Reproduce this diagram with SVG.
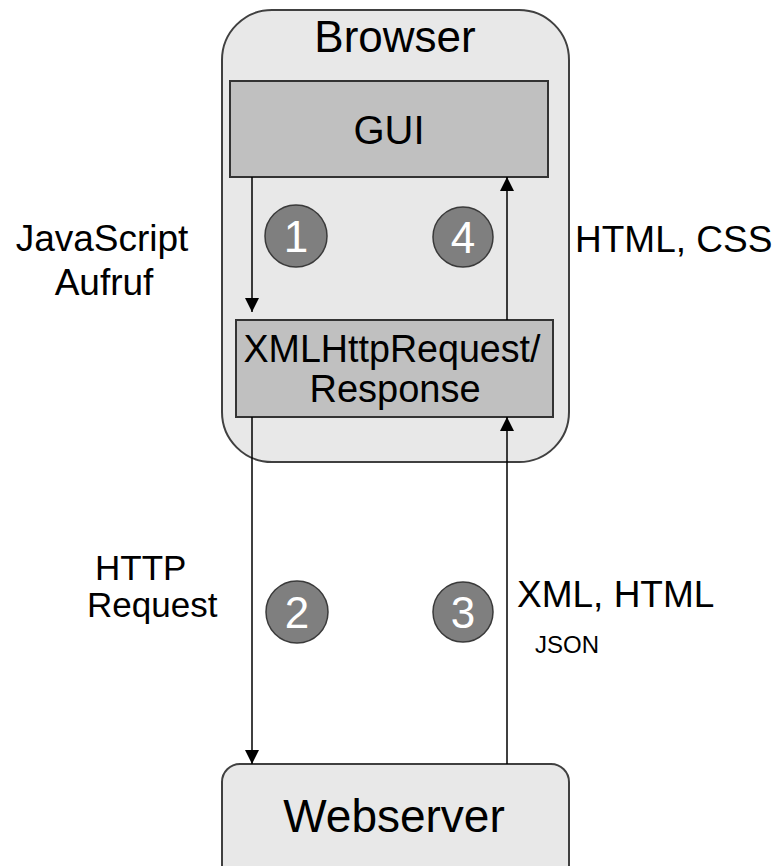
<svg xmlns="http://www.w3.org/2000/svg" width="778" height="866" viewBox="0 0 778 866">
<defs>
<marker id="arr" markerUnits="userSpaceOnUse" markerWidth="14" markerHeight="16" viewBox="0 0 14 16" refX="14" refY="7" orient="auto">
<path d="M0,0 L14,7 L0,14 Z" fill="#000"/>
</marker>
</defs>
<style>
text{font-family:"Liberation Sans",Arial,sans-serif;fill:#000}
.outer{fill:#e8e8e8;stroke:#404040;stroke-width:2}
.inner{fill:#c0c0c0;stroke:#333;stroke-width:2}
.step circle{fill:#7f7f7f;stroke:#3a3a3a;stroke-width:1.5}
.step text{fill:#fff;font-size:44px;text-anchor:middle}
.conn{stroke:#000;stroke-width:1.5;fill:none;marker-end:url(#arr)}
.lbl{font-size:37px}
</style>
<g id="browser">
<rect class="outer" x="222" y="10" width="347" height="452" rx="50" ry="50"/>
<text x="395" y="52" font-size="44" text-anchor="middle">Browser</text>
</g>
<g id="gui">
<rect class="inner" x="230" y="81" width="318" height="96"/>
<text x="389" y="144" font-size="40" text-anchor="middle">GUI</text>
</g>
<g id="xhr">
<rect class="inner" x="236" y="320" width="317" height="97"/>
<text x="392" y="362" font-size="38" text-anchor="middle" textLength="297" lengthAdjust="spacingAndGlyphs">XMLHttpRequest/</text>
<text x="395" y="402" font-size="38" text-anchor="middle">Response</text>
</g>
<g id="webserver">
<rect class="outer" x="222" y="764" width="347" height="130" rx="18" ry="18"/>
<text x="394" y="832" font-size="46" text-anchor="middle">Webserver</text>
</g>
<g id="connectors">
<line class="conn" x1="252" y1="177" x2="252" y2="312"/>
<line class="conn" x1="507" y1="320" x2="507" y2="177"/>
<line class="conn" x1="252" y1="417" x2="252" y2="764"/>
<line class="conn" x1="507" y1="764" x2="507" y2="417"/>
</g>
<g id="step1" class="step"><circle cx="296" cy="236" r="31"/><text x="296" y="252">1</text></g>
<g id="step4" class="step"><circle cx="463" cy="237" r="30"/><text x="463" y="253">4</text></g>
<g id="step2" class="step"><circle cx="297" cy="612" r="31"/><text x="297" y="628">2</text></g>
<g id="step3" class="step"><circle cx="463" cy="612" r="30"/><text x="463" y="628">3</text></g>
<g id="labels">
<text class="lbl" x="102" y="251" font-size="36" text-anchor="middle">JavaScript</text>
<text class="lbl" x="104" y="295" font-size="36" text-anchor="middle">Aufruf</text>
<text class="lbl" x="575" y="252">HTML, CSS</text>
<text class="lbl" x="95" y="580" style="font-size:35px">HTTP</text>
<text class="lbl" x="87" y="617" style="font-size:35px">Request</text>
<text class="lbl" x="517" y="607">XML, HTML</text>
<text x="535" y="653" font-size="24">JSON</text>
</g>
</svg>
